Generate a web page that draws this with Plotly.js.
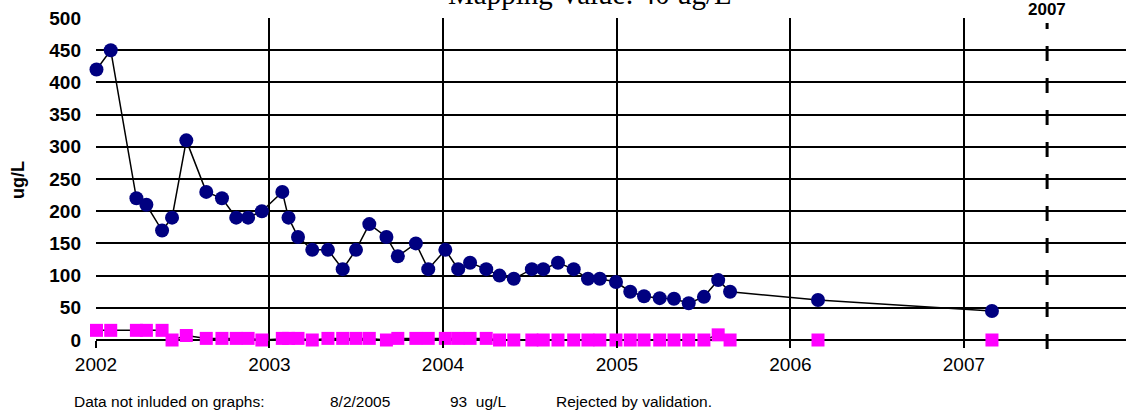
<!DOCTYPE html>
<html>
<head>
<meta charset="utf-8">
<script src="https://cdn.plot.ly/plotly-3.0.1.min.js"></script>
<style>html,body{margin:0;padding:0;background:#fff;}#chart{width:1126px;height:413px;}</style>
</head>
<body>
<div id="chart"></div>
<script>
// ---- data ----
const sampleDates = [
  "2002-01-02","2002-02-01","2002-03-27","2002-04-17","2002-05-20","2002-06-10","2002-07-10",
  "2002-08-21","2002-09-23","2002-10-23","2002-11-17","2002-12-16",
  "2003-01-28","2003-02-10","2003-03-02","2003-04-01","2003-05-04","2003-06-04","2003-07-02",
  "2003-07-30","2003-09-04","2003-09-28","2003-11-05","2003-12-01",
  "2004-01-06","2004-02-02","2004-02-27","2004-04-01","2004-04-29","2004-05-29","2004-07-06",
  "2004-07-30","2004-08-30","2004-10-02","2004-11-01","2004-11-26","2004-12-30",
  "2005-01-29","2005-02-27","2005-04-01","2005-05-01","2005-06-01","2005-07-03","2005-08-02",
  "2005-08-27","2006-02-28","2007-03-01"
];
const concentration = [
  420,450,220,210,170,190,310,
  230,220,190,190,200,
  230,190,160,140,140,110,140,
  180,160,130,150,110,
  140,110,120,110,100,95,110,
  110,120,110,95,95,90,
  75,68,65,64,57,67,93,
  75,62,45
];
const secondSeries = [
  15,15,15,15,15,0,7,
  2.5,2.5,2.5,2.5,0,
  2.5,2.5,2.5,0,2.5,2.5,2.5,
  2.5,0,2.5,2.5,2.5,
  2.5,2.5,2.5,2.5,0,0,0,
  0,0,0,0,0,0,
  0,0,0,0,0,0,8,
  0,0,0
];
const tickYears = ["2002","2003","2004","2005","2006","2007"];
const yTicks = [0,50,100,150,200,250,300,350,400,450,500];
const markerDate = "2007-06-25";
const markerLabel = "2007";
const chartTitle = "Mapping Value: 40 ug/L";
const yTitle = "ug/L";
const footnote = ["Data not inluded on graphs:", "8/2/2005", "93  ug/L", "Rejected by validation."];

// ---- layout helpers (pixel -> paper) ----
const L = 96, T = 18, W = 1126, H = 413, B = 73;
const PW = W - L, PH = H - T - B;
const px = x => (x - L) / PW;
const py = y => (T + PH - y) / PH;

const sans = "Liberation Sans, Arial, sans-serif";

const traces = [
  {
    x: sampleDates, y: secondSeries, type: "scatter", mode: "lines+markers",
    line: {color: "#000000", width: 1.5},
    marker: {symbol: "square", size: 13, color: "#FF00FF"},
    cliponaxis: false, hoverinfo: "skip"
  },
  {
    x: sampleDates, y: concentration, type: "scatter", mode: "lines+markers",
    line: {color: "#000000", width: 1.5},
    marker: {symbol: "circle", size: 14, color: "#000080"},
    cliponaxis: false, hoverinfo: "skip"
  }
];

const layout = {
  width: W, height: H,
  margin: {l: L, r: 0, t: T, b: B, pad: 0},
  paper_bgcolor: "#ffffff", plot_bgcolor: "#ffffff",
  showlegend: false,
  font: {family: sans, color: "#000"},
  xaxis: {
    type: "date",
    range: ["2002-01-01", "2007-12-08"],
    tickvals: tickYears.map(y => y + "-01-01"),
    ticktext: tickYears,
    showgrid: true, gridcolor: "#000", gridwidth: 2,
    ticks: "outside", ticklen: 7, tickwidth: 2, tickcolor: "#000",
    tickfont: {family: sans, size: 19, color: "#000"},
    ticklabelstandoff: 0,
    showline: false, zeroline: false, fixedrange: true
  },
  yaxis: {
    range: [0, 500],
    tickvals: yTicks,
    showgrid: true, gridcolor: "#000", gridwidth: 2,
    zeroline: true, zerolinecolor: "#000", zerolinewidth: 2.5,
    ticks: "", showline: false,
    tickfont: {family: sans, size: 19, color: "#000", weight: "bold"},
    ticklabelstandoff: 14, fixedrange: true
  },
  shapes: [
    {type: "line", xref: "x", yref: "paper", x0: markerDate, x1: markerDate,
     y0: py(349), y1: py(23), line: {color: "#000", width: 3, dash: "15px,17px"}}
  ],
  annotations: [
    {text: chartTitle, xref: "paper", yref: "paper", x: px(590), y: py(12),
     xanchor: "center", yanchor: "bottom", showarrow: false,
     font: {family: "Liberation Serif, Times New Roman, serif", size: 29, color: "#000"}},
    {text: markerLabel, xref: "x", yref: "paper", x: markerDate, y: py(21),
     xanchor: "center", yanchor: "bottom", showarrow: false,
     font: {family: sans, size: 17, color: "#000", weight: "bold"}},
    {text: yTitle, xref: "paper", yref: "paper", x: px(18), y: py(180),
     xanchor: "center", yanchor: "middle", textangle: -90, showarrow: false,
     font: {family: sans, size: 18, color: "#000", weight: "bold"}},
    {text: footnote[0], xref: "paper", yref: "paper", x: px(72), y: py(401),
     xanchor: "left", yanchor: "middle", showarrow: false, font: {family: sans, size: 15.5}},
    {text: footnote[1], xref: "paper", yref: "paper", x: px(328), y: py(401),
     xanchor: "left", yanchor: "middle", showarrow: false, font: {family: sans, size: 15.5}},
    {text: footnote[2], xref: "paper", yref: "paper", x: px(448), y: py(401),
     xanchor: "left", yanchor: "middle", showarrow: false, font: {family: sans, size: 15.5}},
    {text: footnote[3], xref: "paper", yref: "paper", x: px(554), y: py(401),
     xanchor: "left", yanchor: "middle", showarrow: false, font: {family: sans, size: 15.5}}
  ]
};

Plotly.newPlot("chart", traces, layout, {staticPlot: true, displayModeBar: false});
</script>
</body>
</html>
